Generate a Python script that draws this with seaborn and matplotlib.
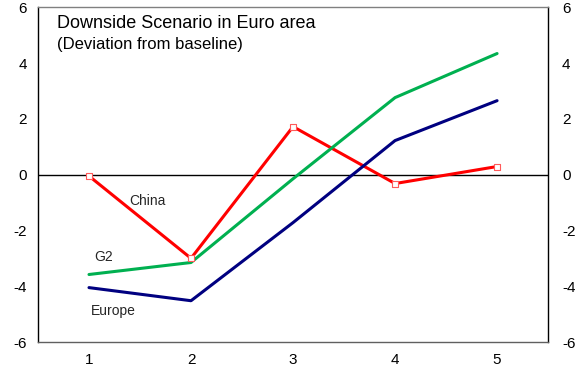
import matplotlib
matplotlib.use("Agg")
import matplotlib.pyplot as plt
import seaborn as sns
import pandas as pd

periods = [1, 2, 3, 4, 5]
china = [-0.05, -3.0, 1.72, -0.32, 0.29]
g2 = [-3.58, -3.15, -0.15, 2.76, 4.34]
europe = [-4.05, -4.52, -1.72, 1.22, 2.65]
y_ticks = [-6, -4, -2, 0, 2, 4, 6]

sns.set_theme(style="white")
plt.rcParams["font.family"] = ["Liberation Sans", "DejaVu Sans"]
plt.rcParams["axes.unicode_minus"] = False

df = pd.DataFrame({
    "period": periods * 3,
    "value": china + g2 + europe,
    "series": ["China"] * 5 + ["G2"] * 5 + ["Europe"] * 5,
})

colors = {"China": "#FF0000", "G2": "#00B050", "Europe": "#000080"}

fig = plt.figure(figsize=(5.79, 3.72), dpi=100)
ax = fig.add_axes([0.0656, 0.0806, 0.881, 0.9])

sns.lineplot(data=df, x="period", y="value", hue="series", palette=colors,
             linewidth=2.2, legend=False, ax=ax, sort=False)

# hollow square markers on the China line
sns.scatterplot(x=periods, y=china, marker="s", s=18, facecolor="white",
                edgecolor="#FF5A5A", linewidth=0.8, ax=ax, zorder=5)

ax.axhline(0, color="black", linewidth=1.0, zorder=1)

ax.set_xlim(0.5, 5.5)
ax.set_ylim(-6, 6)
ax.set_xticks(periods)
ax.set_yticks(y_ticks)
ax.set_xlabel("")
ax.set_ylabel("")
ax.tick_params(axis="both", length=0, labelsize=11, colors="black", pad=8)

for side in ["left", "right", "top", "bottom"]:
    ax.spines[side].set_visible(True)
    ax.spines[side].set_linewidth(1.0)
ax.spines["left"].set_color("black")
ax.spines["right"].set_color("black")
ax.spines["top"].set_color("#808080")
ax.spines["bottom"].set_color("#606060")

ax2 = ax.twinx()
ax2.set_ylim(-6, 6)
ax2.set_yticks(y_ticks)
ax2.tick_params(axis="y", length=0, labelsize=11, colors="black", pad=10)
for side in ["left", "right", "top", "bottom"]:
    ax2.spines[side].set_visible(False)

ax.text(0.037, 0.952, "Downside Scenario in Euro area", transform=ax.transAxes,
        fontsize=13, va="center", ha="left", color="black")
ax.text(0.037, 0.889, "(Deviation from baseline)", transform=ax.transAxes,
        fontsize=12, va="center", ha="left", color="black")

ax.text(1.39, -0.95, "China", fontsize=10, ha="left", va="center")
ax.text(1.05, -2.95, "G2", fontsize=10, ha="left", va="center")
ax.text(1.02, -4.9, "Europe", fontsize=10, ha="left", va="center")

fig.savefig("out.png", dpi=100)
